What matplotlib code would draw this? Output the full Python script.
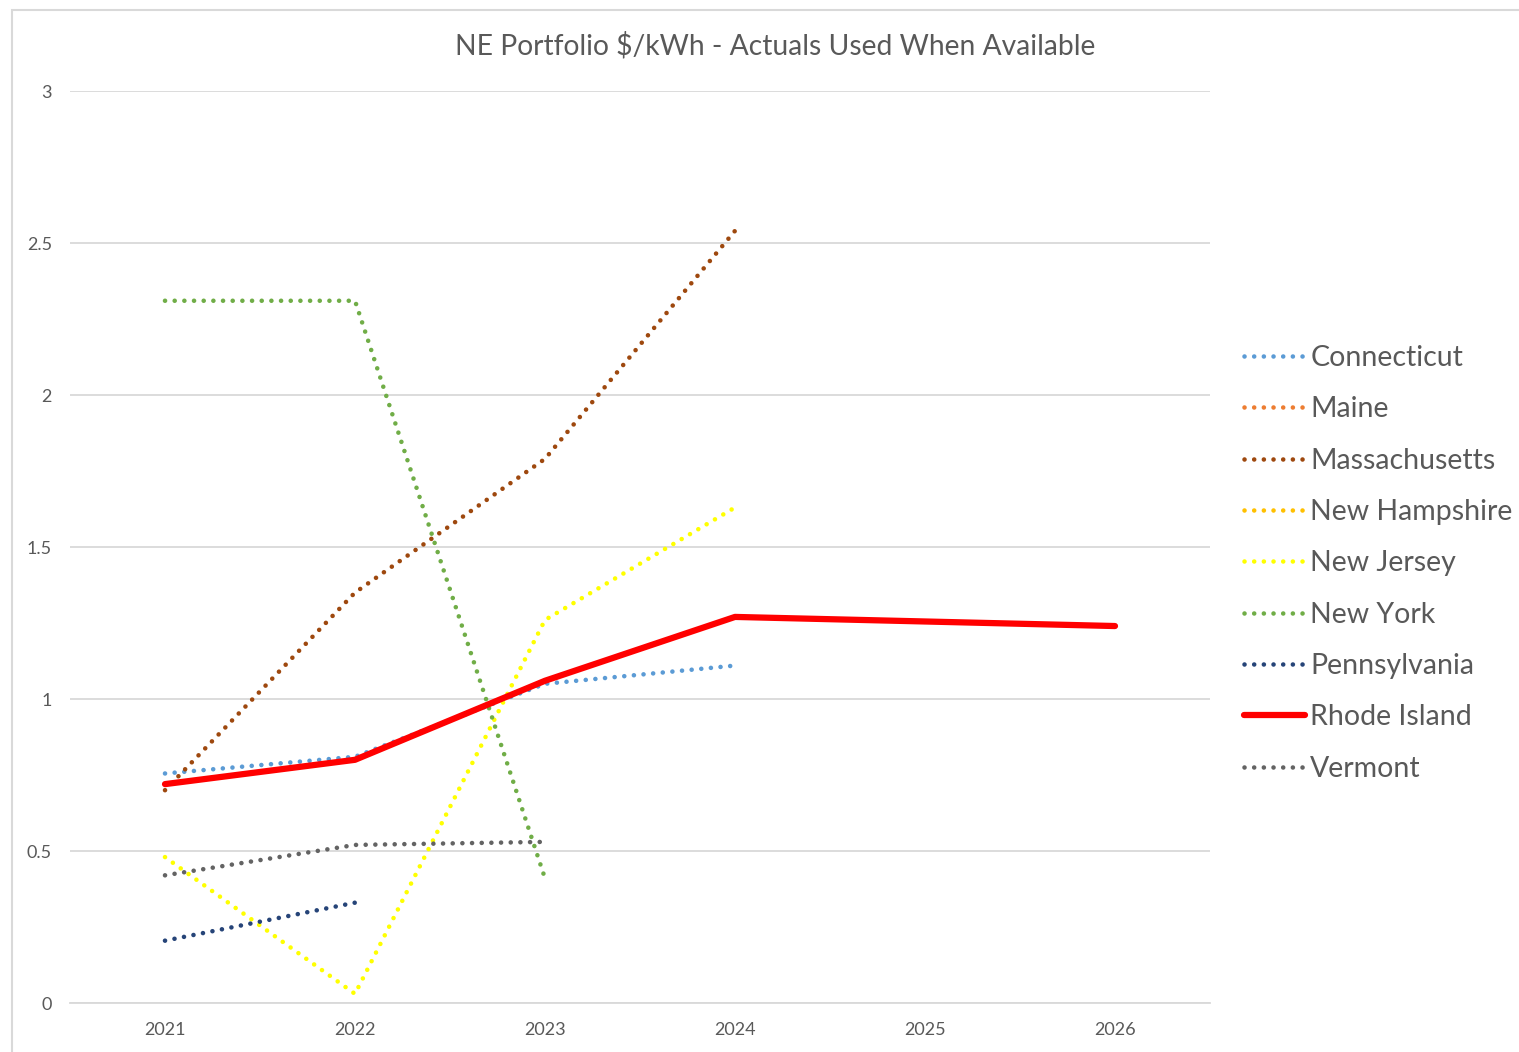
import numpy as np
import matplotlib.pyplot as plt
from matplotlib.patches import Rectangle

plt.rcParams['font.family'] = ['Lato', 'DejaVu Sans']

years = ["2021", "2022", "2023", "2024", "2025", "2026"]
nan = np.nan

connecticut = [0.755, 0.81, 1.05, 1.11, nan, nan]
maine = [nan, nan, nan, nan, nan, nan]
massachusetts = [0.70, 1.35, 1.79, 2.54, nan, nan]
new_hampshire = [nan, nan, nan, nan, nan, nan]
new_jersey = [0.48, 0.03, 1.26, 1.63, nan, nan]
new_york = [2.31, 2.31, 0.41, nan, nan, nan]
pennsylvania = [0.205, 0.33, nan, nan, nan, nan]
rhode_island = [0.72, 0.80, 1.06, 1.27, 1.255, 1.24]
vermont = [0.42, 0.52, 0.53, nan, nan, nan]

series = [
    ("Connecticut", connecticut, "#5B9BD5"),
    ("Maine", maine, "#ED7D31"),
    ("Massachusetts", massachusetts, "#9E480E"),
    ("New Hampshire", new_hampshire, "#FFC000"),
    ("New Jersey", new_jersey, "#FFFF00"),
    ("New York", new_york, "#70AD47"),
    ("Pennsylvania", pennsylvania, "#264478"),
    ("Rhode Island", rhode_island, "#FF0000"),
    ("Vermont", vermont, "#636363"),
]

fig = plt.figure(figsize=(15.19, 10.52), dpi=100)
ax = fig.add_axes([70/1519, 1-1003/1052, (1210-70)/1519, (1003-91)/1052])

# chart frame (cropped on right and bottom)
fig.patches.append(Rectangle((12/1519, -0.1), 1.2, 1-10/1052+0.1, transform=fig.transFigure,
                             fill=False, edgecolor="#D9D9D9", linewidth=1.5, zorder=0))

x = np.arange(len(years))
for name, vals, col in series:
    if name == "Rhode Island":
        ax.plot(x, vals, color=col, lw=4.5, solid_capstyle="round", solid_joinstyle="round",
                label=name, zorder=5)
    else:
        ax.plot(x, vals, color=col, lw=3.3, linestyle=(0, (0.01, 2.1)),
                dash_capstyle="round", label=name, zorder=4)

ax.set_xlim(-0.5, 5.5)
ax.set_ylim(0, 3)
ax.set_xticks(x)
ax.set_xticklabels(years)
ax.set_yticks([0, 0.5, 1, 1.5, 2, 2.5, 3])
ax.set_yticklabels(["0", "0.5", "1", "1.5", "2", "2.5", "3"])
ax.tick_params(length=0, labelsize=13, labelcolor="#595959")
ax.tick_params(axis="x", pad=14)
ax.tick_params(axis="y", pad=13)
ax.grid(axis="y", color="#D9D9D9", lw=1.3)
ax.set_axisbelow(True)
for s in ["top", "right", "left"]:
    ax.spines[s].set_visible(False)
ax.spines["bottom"].set_color("#D9D9D9")
ax.spines["bottom"].set_linewidth(1.3)

fig.text(775/1519, 1-46/1052, "NE Portfolio $/kWh - Actuals Used When Available",
         ha="center", va="center", fontsize=20.3, color="#595959")

ax.legend(loc="upper left", bbox_to_anchor=(1244/1519, 1-345/1052), bbox_transform=fig.transFigure,
          frameon=False, fontsize=20.5, labelcolor="#595959", handlelength=2.15,
          handletextpad=0.18, labelspacing=0.89, borderaxespad=0, borderpad=0)

fig.savefig("out.png", dpi=100)
